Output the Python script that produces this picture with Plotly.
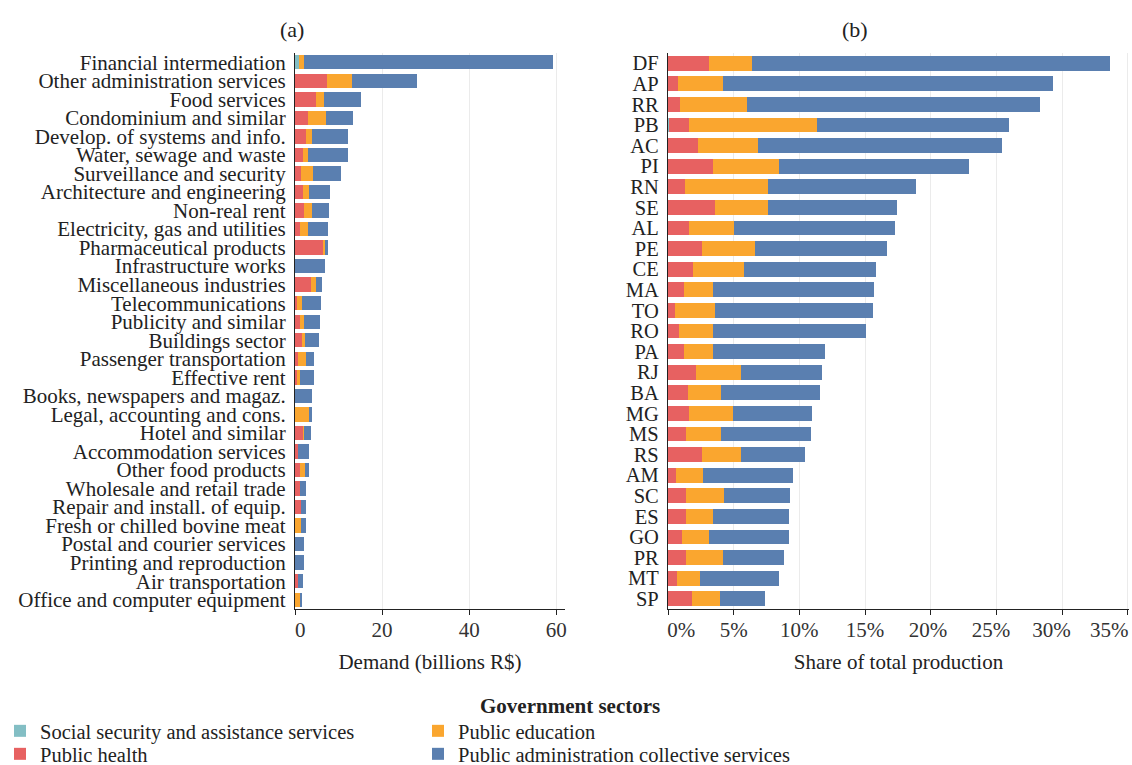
import plotly.graph_objects as go

# ---------------- data ----------------
sectors = [
    "Financial intermediation", "Other administration services", "Food services",
    "Condominium and similar", "Develop. of systems and info.", "Water, sewage and waste",
    "Surveillance and security", "Architecture and engineering", "Non-real rent",
    "Electricity, gas and utilities", "Pharmaceutical products", "Infrastructure works",
    "Miscellaneous industries", "Telecommunications", "Publicity and similar",
    "Buildings sector", "Passenger transportation", "Effective rent",
    "Books, newspapers and magaz.", "Legal, accounting and cons.", "Hotel and similar",
    "Accommodation services", "Other food products", "Wholesale and retail trade",
    "Repair and install. of equip.", "Fresh or chilled bovine meat", "Postal and courier services",
    "Printing and reproduction", "Air transportation", "Office and computer equipment",
]
a_social = [0.9, 0.0, 0.0, 0.0, 0.0, 0.0, 0.0, 0.0, 0.0, 0.0,
            0.0, 0.0, 0.0, 0.0, 0.0, 0.0, 0.0, 0.0, 0.0, 0.0,
            0.0, 0.1, 0.0, 0.0, 0.0, 0.0, 0.0, 0.0, 0.1, 0.0]
a_health = [0.0, 7.25, 4.8, 2.9, 2.5, 1.8, 1.4, 1.8, 2.1, 1.25,
            6.5, 0.1, 3.6, 0.4, 1.15, 1.6, 0.65, 0.5, 0.0, 0.1,
            1.9, 0.5, 1.25, 1.25, 1.3, 0.0, 0.0, 0.0, 0.5, 0.0]
a_educ = [1.1, 5.8, 1.75, 4.2, 1.4, 1.1, 2.75, 1.5, 1.8, 1.7,
          0.3, 0.0, 1.25, 1.1, 0.9, 0.75, 1.85, 0.65, 0.0, 3.0,
          0.1, 0.0, 1.1, 0.0, 0.0, 1.4, 0.0, 0.0, 0.0, 1.3]
a_admin = [57.2, 15.0, 8.6, 6.25, 8.3, 9.2, 6.5, 4.7, 3.8, 4.6,
           0.7, 6.8, 1.3, 4.4, 3.6, 3.1, 1.85, 3.2, 4.0, 0.8,
           1.6, 2.5, 0.75, 1.25, 1.2, 1.1, 2.0, 2.0, 1.15, 0.4]
a_ticks = [0, 20, 40, 60]
a_ticktext = ["\u00a0\u00a00", "20", "40", "60"]

states = ["DF", "AP", "RR", "PB", "AC", "PI", "RN", "SE", "AL", "PE",
          "CE", "MA", "TO", "RO", "PA", "RJ", "BA", "MG", "MS", "RS",
          "AM", "SC", "ES", "GO", "PR", "MT", "SP"]
b_social = [0.0, 0.0, 0.0, 0.1, 0.0, 0.0, 0.0, 0.0, 0.0, 0.0,
            0.0, 0.0, 0.0, 0.0, 0.0, 0.0, 0.0, 0.0, 0.0, 0.0,
            0.0, 0.0, 0.0, 0.0, 0.0, 0.0, 0.0]
b_health = [3.1, 0.78, 0.9, 1.5, 2.25, 3.45, 1.3, 3.55, 1.6, 2.6,
            1.9, 1.2, 0.57, 0.83, 1.2, 2.15, 1.5, 1.6, 1.4, 2.6,
            0.6, 1.35, 1.4, 1.1, 1.35, 0.65, 1.85]
b_educ = [3.33, 3.4, 5.1, 9.75, 4.6, 5.0, 6.35, 4.1, 3.45, 4.0,
          3.9, 2.25, 3.0, 2.63, 2.25, 3.4, 2.55, 3.35, 2.65, 2.95,
          2.05, 2.9, 2.0, 2.0, 2.8, 1.75, 2.1]
b_admin = [27.2, 25.1, 22.3, 14.6, 18.55, 14.5, 11.2, 9.8, 12.25, 10.05,
           10.05, 12.25, 12.05, 11.6, 8.5, 6.2, 7.5, 6.0, 6.8, 4.9,
           6.9, 5.05, 5.85, 6.1, 4.7, 6.05, 3.4]
b_ticks = [0, 5, 10, 15, 20, 25, 30, 35]
b_ticktext = ["\u00a0\u00a0\u00a0\u00a0\u00a00%", "5%", "10%", "15%",
              "20%\u00a0", "25%\u00a0\u00a0", "30%\u00a0\u00a0\u00a0\u00a0",
              "35%\u00a0\u00a0\u00a0\u00a0\u00a0\u00a0\u00a0"]

# (name, panel a values, panel b values, colour, legend row, rank)
series = [
    ("Social security and assistance services", a_social, b_social, "#83BEC4", "legend", 1),
    ("Public health", a_health, b_health, "#E76161", "legend2", 1),
    ("Public education", a_educ, b_educ, "#FAA62F", "legend", 2),
    ("Public administration collective services", a_admin, b_admin, "#5A7FB0", "legend2", 2),
]

FONT = "Liberation Serif"
W, H = 1132, 765

def px_x(p):
    return p / W

def px_y(p):
    return (H - p) / H

fig = go.Figure()
for name, av, bv, col, leg, rank in series:
    fig.add_trace(go.Bar(
        x=av, y=sectors, orientation="h", name=name, marker_color=col,
        marker_line_width=0, width=0.78, xaxis="x", yaxis="y",
        legend=leg, legendgroup=name, legendrank=rank, showlegend=True,
    ))
    fig.add_trace(go.Bar(
        x=bv, y=states, orientation="h", name=name, marker_color=col,
        marker_line_width=0, width=0.72, xaxis="x2", yaxis="y2",
        legend=leg, legendgroup=name, legendrank=rank, showlegend=False,
    ))

ydom = [px_y(609), px_y(53)]
axis_common = dict(
    showline=True, linecolor="#222", linewidth=1.3, mirror=False,
    showgrid=True, gridcolor="#ebebeb", gridwidth=1,
    ticks="outside", ticklen=5, tickcolor="#222", tickwidth=1.2,
    tickfont=dict(family=FONT, size=21, color="#333"),
    ticklabelstandoff=-3, ticklabeloverflow="allow", tickangle=0,
    zeroline=False, automargin=False,
)
yaxis_common = dict(
    domain=ydom, autorange="reversed", type="category",
    showline=True, linecolor="#222", linewidth=1.3, showgrid=False,
    ticks="", ticklabelstandoff=4, automargin=False,
)
legend_common = dict(
    orientation="h", x=0, xanchor="left", yanchor="middle",
    entrywidth=373, entrywidthmode="pixels",
    font=dict(family=FONT, size=20.5, color="#222"),
    itemclick=False, tracegroupgap=0, traceorder="normal",
    bgcolor="rgba(0,0,0,0)",
)
fig.update_layout(
    width=W, height=H,
    margin=dict(l=0, r=0, t=0, b=0, autoexpand=False),
    paper_bgcolor="white", plot_bgcolor="white",
    barmode="stack",
    font=dict(family=FONT, size=20, color="#222"),
    xaxis=dict(domain=[px_x(295), px_x(565)], range=[0, 62],
               tickvals=a_ticks, ticktext=a_ticktext, anchor="y",
               title=dict(text="Demand (billions R$)", standoff=12,
                          font=dict(family=FONT, size=21, color="#222")),
               **axis_common),
    yaxis=dict(anchor="x", tickmode="array", tickvals=sectors,
               tickfont=dict(family=FONT, size=21, color="#222"),
               **yaxis_common),
    xaxis2=dict(domain=[px_x(668), px_x(1129)], range=[0, 35.1],
                tickvals=b_ticks, ticktext=b_ticktext, anchor="y2",
                title=dict(text="Share of total production", standoff=12,
                           font=dict(family=FONT, size=21, color="#222")),
                **axis_common),
    yaxis2=dict(anchor="x2", tickmode="array", tickvals=states,
                tickfont=dict(family=FONT, size=20.5, color="#222"),
                **yaxis_common),
    legend=dict(y=px_y(731), **legend_common),
    legend2=dict(y=px_y(754), **legend_common),
    annotations=[
        dict(text="(a)", x=px_x(292), y=px_y(30), xref="paper", yref="paper",
             xanchor="center", yanchor="middle", showarrow=False,
             font=dict(family=FONT, size=22, color="#222")),
        dict(text="(b)", x=px_x(855), y=px_y(30), xref="paper", yref="paper",
             xanchor="center", yanchor="middle", showarrow=False,
             font=dict(family=FONT, size=22, color="#222")),
        dict(text="<b>Government sectors</b>", x=px_x(570), y=px_y(706),
             xref="paper", yref="paper", xanchor="center", yanchor="middle",
             showarrow=False, font=dict(family=FONT, size=21, color="#222")),
    ],
)

fig.write_html("out.html")
